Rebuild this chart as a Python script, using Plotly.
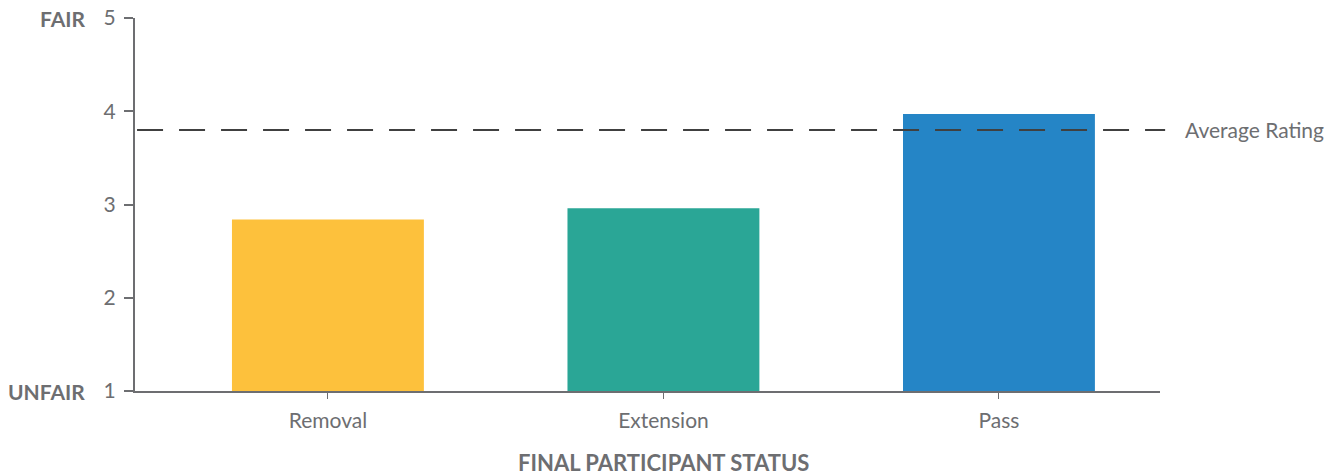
import plotly.graph_objects as go

categories = ["Removal", "Extension", "Pass"]
ratings = [2.84, 2.96, 3.97]
bar_colors = ["#FDC13C", "#2AA696", "#2585C6"]
average_rating = 3.8
y_ticks = [1, 2, 3, 4, 5]

gray = "#6D6E71"
font_family = "Lato, 'Open Sans', sans-serif"

fig = go.Figure()
fig.add_trace(go.Bar(
    x=list(range(len(categories))),
    y=[r - 1 for r in ratings],
    base=1,
    marker=dict(color=bar_colors, line=dict(width=0)),
    width=0.572,
    hoverinfo="skip",
))

# average rating reference line
fig.add_shape(
    type="line", xref="paper", yref="y",
    x0=0.002, x1=1.005, y0=average_rating, y1=average_rating,
    line=dict(color="#404040", width=2, dash="26px,16px"),
    layer="above",
)
fig.add_annotation(
    xref="paper", yref="y", x=1.022, y=average_rating,
    text="Average Rating", showarrow=False, xanchor="left", yanchor="middle",
    font=dict(family=font_family, size=21, color=gray),
)

# scale end labels
for label, yv in [("FAIR", 5), ("UNFAIR", 1)]:
    fig.add_annotation(
        xref="paper", yref="y", x=-0.047, y=yv,
        text="<b>" + label + "</b>", showarrow=False, xanchor="right", yanchor="middle",
        font=dict(family=font_family, size=21, color=gray),
    )

# axis title centred under the middle category
fig.add_annotation(
    xref="x", yref="paper", x=1, y=-0.193,
    text="<b>FINAL PARTICIPANT STATUS</b>", showarrow=False,
    xanchor="center", yanchor="middle",
    font=dict(family=font_family, size=22, color=gray),
)

fig.update_layout(
    width=1332, height=475,
    margin=dict(l=135, r=172, t=18, b=84),
    paper_bgcolor="white", plot_bgcolor="white",
    showlegend=False,
    font=dict(family=font_family, color=gray),
    xaxis=dict(
        range=[-0.575, 2.48],
        automargin=False,
        tickmode="array", tickvals=list(range(len(categories))), ticktext=categories,
        showline=True, linecolor="#6D6E71", linewidth=2,
        ticks="outside", ticklen=6, tickcolor="#6D6E71", tickwidth=1,
        showgrid=False, zeroline=False,
        ticklabelstandoff=4,
        tickfont=dict(family=font_family, size=21, color=gray),
    ),
    yaxis=dict(
        range=[1, 5],
        automargin=False,
        tickmode="array", tickvals=y_ticks,
        showline=True, linecolor="#6D6E71", linewidth=2,
        ticks="outside", ticklen=9, tickcolor="#6D6E71", tickwidth=1.5,
        showgrid=False, zeroline=False,
        ticklabelstandoff=4,
        tickfont=dict(family=font_family, size=21, color=gray),
    ),
)

fig.write_html("out.html")
